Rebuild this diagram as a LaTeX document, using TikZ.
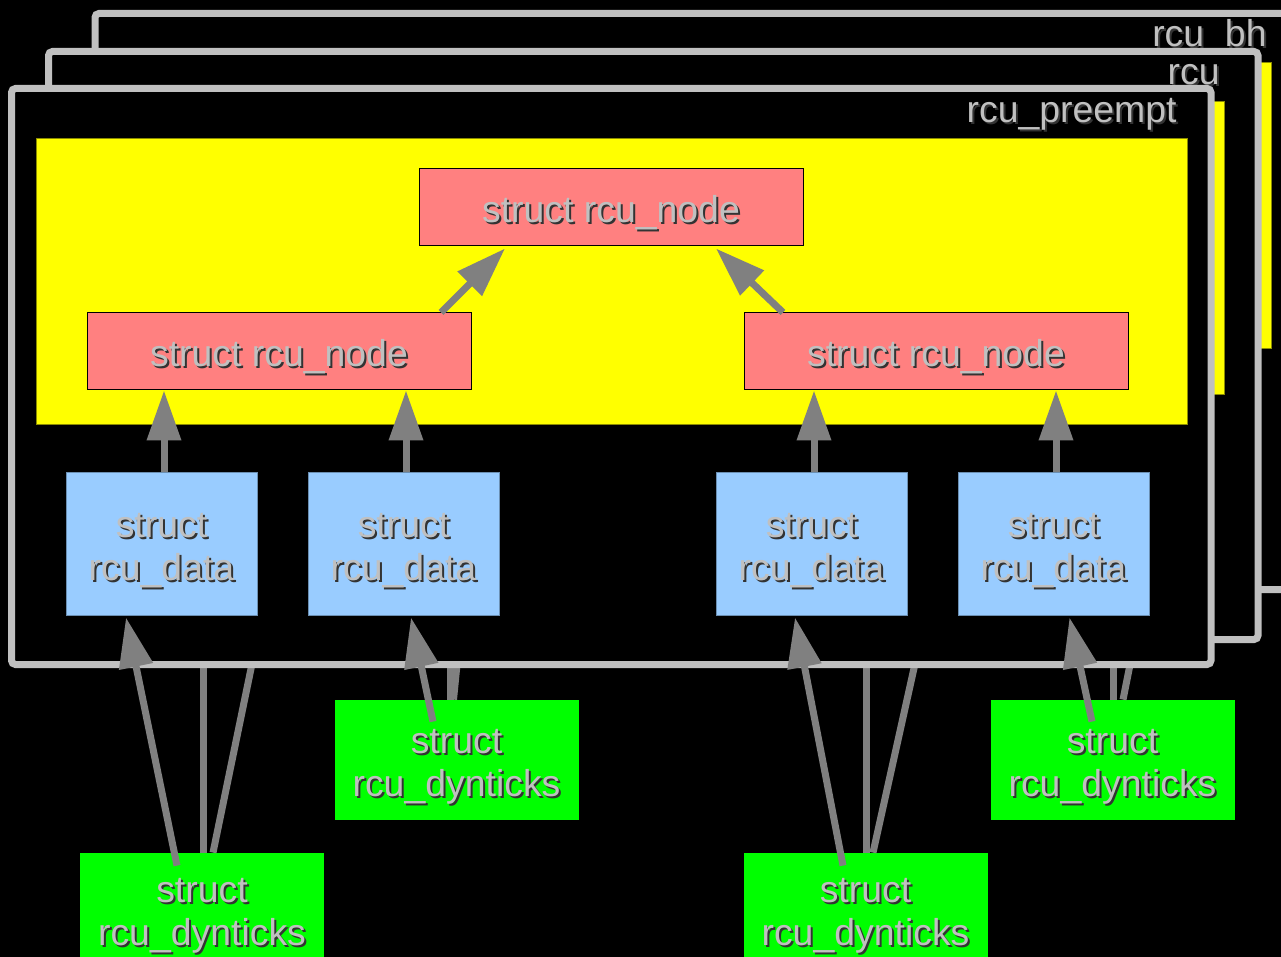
\documentclass[tikz,border=0pt]{standalone}
\usepackage{fontspec}
\setmainfont{Liberation Sans}
\usetikzlibrary{positioning,arrows.meta}
\definecolor{panelgray}{RGB}{192,192,192}
\definecolor{arrowgray}{RGB}{128,128,128}
\definecolor{nodepink}{RGB}{255,128,128}
\definecolor{datablue}{RGB}{153,204,255}
\definecolor{dyngreen}{RGB}{0,255,0}
\definecolor{ylw}{RGB}{255,255,0}
\definecolor{shadecol}{RGB}{51,51,51}
\newcommand{\stk}[1]{\begin{tabular}{@{}c@{}}#1\end{tabular}}
\newcommand{\shtxt}[1]{\rlap{\hspace{1pt}\raisebox{-1pt}{\color{shadecol}\stk{#1}}}\stk{#1}}
\newcommand{\ntxt}[1]{\raisebox{-7.4pt}[0pt][0pt]{\shtxt{#1}}}
\tikzstyle{panel} = [draw=panelgray, fill=black, line width=3.5pt, rounded corners=2pt, inner sep=0pt, outer sep=0pt]
\tikzstyle{ybox} = [draw=ylw!55!black, fill=ylw, line width=0.4pt, inner sep=0pt]
\tikzstyle{rnode} = [draw=black, fill=nodepink, line width=0.5pt, minimum width=192pt, minimum height=38.5pt, text=panelgray]
\tikzstyle{rdata} = [draw=datablue!70!black, fill=datablue, line width=0.5pt, minimum width=95.5pt, minimum height=71pt, text=panelgray]
\tikzstyle{rdyn} = [fill=dyngreen, minimum width=122pt, minimum height=60pt, text=panelgray]
\tikzstyle{plabel} = [anchor=base east, inner sep=0pt, text=panelgray]
\tikzstyle{arr} = [draw=arrowgray, line width=3.5pt, -{Triangle[length=25pt,width=16.5pt]}]
\tikzstyle{hid} = [draw=arrowgray, line width=3.5pt]

\begin{document}
\begin{tikzpicture}[x=0.5pt,y=-0.5pt,font=\fontsize{18.7}{21.5}\selectfont]
	\fill[black] (0,0) rectangle (1281,957);
	\useasboundingbox (0,0) rectangle (1281,957);
	\clip (0,0) rectangle (1281,957);

	% rcu_bh and rcu, behind
	\node (bk) [panel, minimum width=605pt, minimum height=288pt] at (700,301.5) {};
	\node (ybk) [ybox, minimum width=576pt, minimum height=143pt] at (695,205) {};
	\node [plabel] at ([shift={(-38,33.5)}]bk.north east) {\shtxt{rcu\_bh}};
	\node (md) [panel, minimum width=604.75pt, minimum height=294pt] at (653.25,345.5) {};
	\node (ymd) [ybox, minimum width=575.5pt, minimum height=146.5pt] at (648.5,247.5) {};
	\node [plabel] at ([shift={(-38,33.5)}]md.north east) {\shtxt{rcu}};

	\node (dy1) [rdyn, minimum height=56pt] at (202,909) {\ntxt{struct\\rcu\_dynticks}};
	\node (dy2) [rdyn] at (456.5,760) {\ntxt{struct\\rcu\_dynticks}};
	\node (dy3) [rdyn, minimum height=56pt] at (865.5,909) {\ntxt{struct\\rcu\_dynticks}};
	\node (dy4) [rdyn] at (1112.5,760) {\ntxt{struct\\rcu\_dynticks}};

	% lines to the hidden rcu_data
	\coordinate (h1a) at (203,630);
	\coordinate (h1b) at (259,630);
	\coordinate (h2a) at (450.5,640);
	\coordinate (h2b) at (459.5,640);
	\coordinate (h3a) at (866,630);
	\coordinate (h3b) at (922.5,630);
	\coordinate (h4a) at (1113.5,640);
	\coordinate (h4b) at (1135,640);
	\draw [hid] ([shift={(1,0)}]dy1.north) -- (h1a);
	\draw [hid] ([shift={(11,0)}]dy1.north) -- (h1b);
	\draw [hid] ([shift={(-6,0)}]dy2.north) -- (h2a);
	\draw [hid] ([shift={(-3,0)}]dy2.north) -- (h2b);
	\draw [hid] ([shift={(0.5,0)}]dy3.north) -- (h3a);
	\draw [hid] ([shift={(7.5,0)}]dy3.north) -- (h3b);
	\draw [hid] ([shift={(1,0)}]dy4.north) -- (h4a);
	\draw [hid] ([shift={(10.5,0)}]dy4.north) -- (h4b);

	% rcu_preempt
	\node (fr) [panel, minimum width=599.75pt, minimum height=288pt] at (611.25,376.5) {};
	\node (yfr) [ybox, minimum width=575.5pt, minimum height=143pt] at (611.5,281) {};
	\node [plabel] at ([shift={(-34,34.5)}]fr.north east) {\shtxt{rcu\_preempt}};

	\node (top) [rnode] at (611,207.5) {\ntxt{struct rcu\_node}};
	\node (nl) [rnode] at (279,351.5) {\ntxt{struct rcu\_node}};
	\node (nr) [rnode] at (936,351.5) {\ntxt{struct rcu\_node}};

	\node (d1) [rdata] at (161.5,544) {\ntxt{struct\\rcu\_data}};
	\node (d2) [rdata, right=25pt of d1] {\ntxt{struct\\rcu\_data}};
	\node (d3) [rdata, right=108pt of d2] {\ntxt{struct\\rcu\_data}};
	\node (d4) [rdata, right=25pt of d3] {\ntxt{struct\\rcu\_data}};

	\draw [arr] ([shift={(162,0)}]nl.north) -- ([shift={(-106,2)}]top.south);
	\draw [arr] ([shift={(-153,0)}]nr.north) -- ([shift={(105,2)}]top.south);

	\draw [arr] ([shift={(2.5,0)}]d1.north) -- ([shift={(2.5,0)}]d1.north |- nl.south);
	\draw [arr] ([shift={(2.5,0)}]d2.north) -- ([shift={(2.5,0)}]d2.north |- nl.south);
	\draw [arr] ([shift={(2.5,0)}]d3.north) -- ([shift={(2.5,0)}]d3.north |- nr.south);
	\draw [arr] ([shift={(2.5,0)}]d4.north) -- ([shift={(2.5,0)}]d4.north |- nr.south);

	\draw [arr] ([shift={(-25,13)}]dy1.north) -- ([shift={(-35.5,2)}]d1.south);
	\draw [arr] ([shift={(-23.5,22)}]dy2.north) -- ([shift={(7.5,2)}]d2.south);
	\draw [arr] ([shift={(-22.5,13)}]dy3.north) -- ([shift={(-16.5,2)}]d3.south);
	\draw [arr] ([shift={(-20.5,22)}]dy4.north) -- ([shift={(16,2)}]d4.south);
\end{tikzpicture}
\end{document}
